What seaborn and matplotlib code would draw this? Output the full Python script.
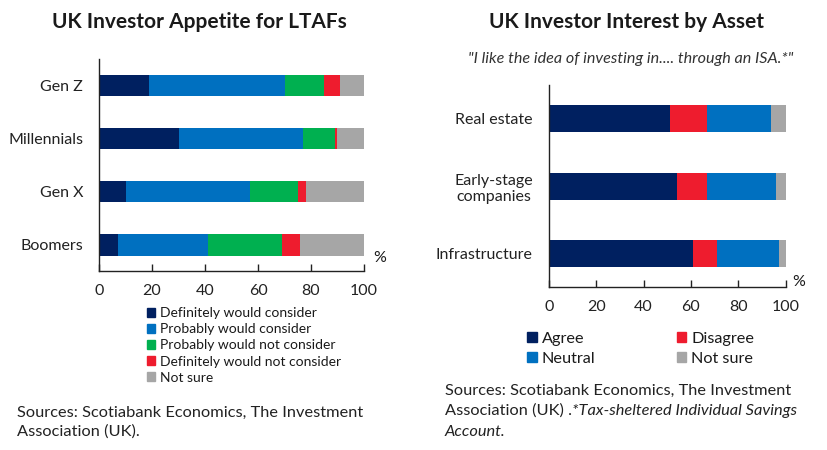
import pandas as pd
import matplotlib.pyplot as plt
import seaborn as sns
from matplotlib.patches import Patch

sns.set_style('ticks')
plt.rcParams['font.family'] = ['Lato', 'DejaVu Sans']
plt.rcParams['text.color'] = '#1a1a1a'

# ---- data: left chart (LTAF appetite by generation) ----
generations = ['Gen Z', 'Millennials', 'Gen X', 'Boomers']
def_consider = [19, 30, 10, 7]
prob_consider = [51, 47, 47, 34]
prob_not = [15, 12, 18, 28]
def_not = [6, 1, 3, 7]
not_sure_gen = [9, 10, 22, 24]
gen_labels = ['Definitely would consider', 'Probably would consider',
              'Probably would not consider', 'Definitely would not consider',
              'Not sure']

# ---- data: right chart (interest by asset) ----
assets = ['Real estate', 'Early-stage\ncompanies', 'Infrastructure']
agree = [51, 54, 61]
disagree = [16, 13, 10]
neutral = [27, 29, 26]
not_sure_asset = [6, 4, 3]
asset_labels = ['Agree', 'Disagree', 'Neutral', 'Not sure']

navy = '#002060'
blue = '#0070C0'
green = '#00B050'
red = '#EE1C2E'
grey = '#A6A6A6'

df_gen = pd.DataFrame({'cat': generations,
                       gen_labels[0]: def_consider, gen_labels[1]: prob_consider,
                       gen_labels[2]: prob_not, gen_labels[3]: def_not,
                       gen_labels[4]: not_sure_gen})
df_asset = pd.DataFrame({'cat': assets,
                         asset_labels[0]: agree, asset_labels[1]: disagree,
                         asset_labels[2]: neutral, asset_labels[3]: not_sure_asset})

gen_colors = [navy, blue, green, red, grey]
asset_colors = [navy, red, blue, grey]


def stacked(ax, df, labels, colors, n):
    cum = df[labels].cumsum(axis=1)
    # draw widest first, then overlay the shorter cumulative bars
    for lab, col in reversed(list(zip(labels, colors))):
        sns.barplot(x=cum[lab], y=df['cat'], color=col, saturation=1,
                    width=0.4, orient='h', ax=ax, linewidth=0)
    ax.set_xlim(0, 100)
    ax.set_ylim(n - 0.5, -0.5)
    ax.set_xticks([0, 20, 40, 60, 80, 100])
    ax.set_xlabel('')
    ax.set_ylabel('')
    for s in ['top', 'right']:
        ax.spines[s].set_visible(False)
    for s in ['left', 'bottom']:
        ax.spines[s].set_color('#222222')
        ax.spines[s].set_linewidth(1)
    ax.tick_params(axis='x', direction='in', length=5, width=1, pad=9,
                   labelsize=11.5, colors='#222222')
    ax.tick_params(axis='y', length=0, pad=11.5, labelsize=11.5, colors='#222222')


fig = plt.figure(figsize=(8.28, 4.5), dpi=100)

ax1 = fig.add_axes([0.1196, 0.3967, 0.320, 0.4722])
stacked(ax1, df_gen, gen_labels, gen_colors, 4)

ax2 = fig.add_axes([0.6627, 0.3616, 0.2862, 0.4496])
stacked(ax2, df_asset, asset_labels, asset_colors, 3)
for t in ax2.get_yticklabels():
    t.set_multialignment('center')

# titles
fig.text(199 / 828, 1 - 22 / 450, 'UK Investor Appetite for LTAFs', ha='center',
         va='center', fontsize=15, fontweight='bold')
fig.text(627 / 828, 1 - 22 / 450, 'UK Investor Interest by Asset', ha='center',
         va='center', fontsize=15, fontweight='bold')
fig.text(631 / 828, 1 - 59 / 450,
         '"I like the idea of investing in.... through an ISA.*"',
         ha='center', va='center', fontsize=11.6, style='italic', color='#333333')

# percent signs
fig.text(380 / 828, 1 - 258 / 450, '%', ha='center', va='center', fontsize=11.5)
fig.text(799 / 828, 1 - 282 / 450, '%', ha='center', va='center', fontsize=11.5)

# legends
h1 = [Patch(color=c, label=l) for c, l in zip(gen_colors, gen_labels)]
fig.legend(handles=h1, loc='upper left', bbox_to_anchor=(147 / 828, 1 - 307 / 450),
           frameon=False, fontsize=10, handlelength=0.6, handleheight=0.6,
           handletextpad=0.3, labelspacing=0.3, borderaxespad=0, borderpad=0)

order = [0, 2, 1, 3]
h2 = [Patch(color=asset_colors[i], label=asset_labels[i]) for i in order]
fig.legend(handles=h2, loc='upper left', bbox_to_anchor=(527 / 828, 1 - 332 / 450),
           ncol=2, frameon=False, fontsize=11.7, handlelength=0.6, handleheight=0.6,
           handletextpad=0.3, labelspacing=0.35, columnspacing=5.0,
           borderaxespad=0, borderpad=0)

# sources
fig.text(17 / 828, 1 - 422 / 450,
         'Sources: Scotiabank Economics, The Investment\nAssociation (UK).',
         ha='left', va='center', fontsize=11.8, linespacing=1.4, color='#222222')

fig.text(445 / 828, 1 - 391 / 450, 'Sources: Scotiabank Economics, The Investment',
         ha='left', va='center', fontsize=11.8, color='#222222')
t_a = fig.text(445 / 828, 1 - 411 / 450, 'Association (UK) .',
               ha='left', va='center', fontsize=11.8, color='#222222')
fig.canvas.draw()
bb = t_a.get_window_extent()
x_end = bb.x1 / fig.bbox.width
fig.text(x_end, 1 - 411 / 450, '*Tax-sheltered Individual Savings',
         ha='left', va='center', fontsize=11.8, style='italic', color='#222222')
fig.text(445 / 828, 1 - 432 / 450, 'Account.',
         ha='left', va='center', fontsize=11.8, style='italic', color='#222222')

fig.savefig('out.png', dpi=100)
